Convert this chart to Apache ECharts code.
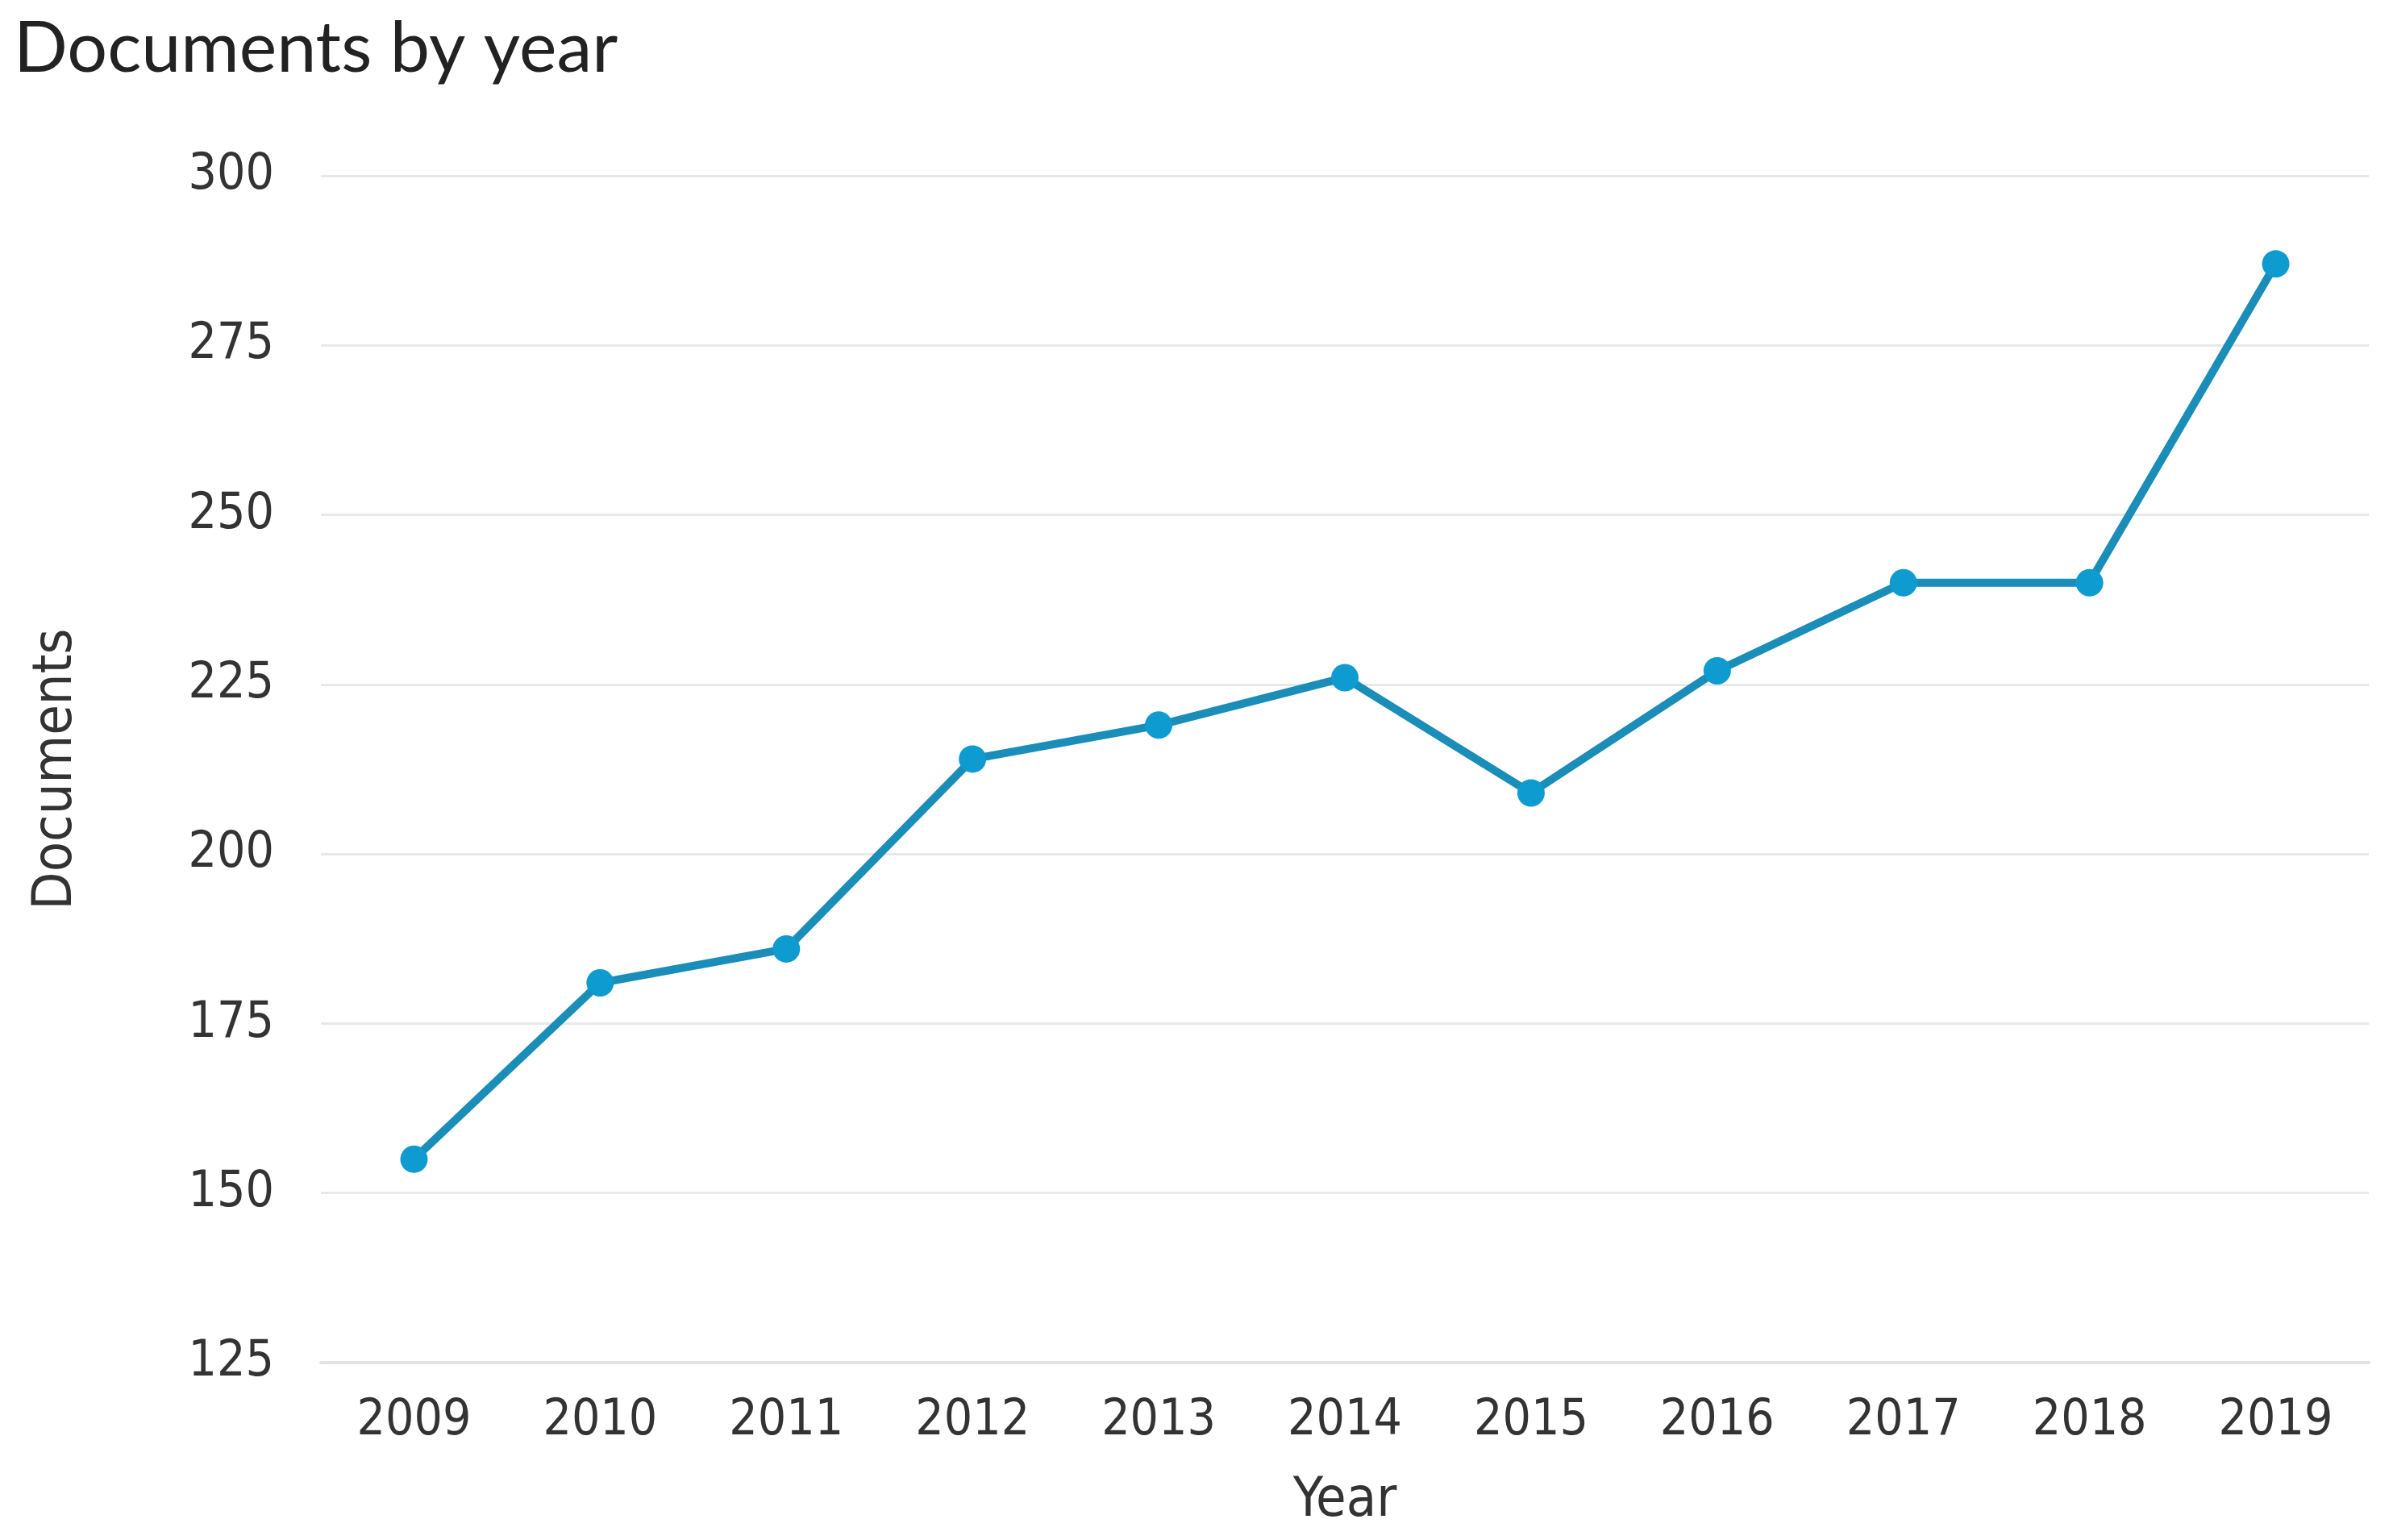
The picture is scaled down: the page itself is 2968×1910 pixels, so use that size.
<!DOCTYPE html>
<html>
<head>
<meta charset="utf-8">
<script src="https://cdn.jsdelivr.net/npm/echarts@6/dist/echarts.min.js"></script>
<style>
  html, body { margin: 0; padding: 0; background: #ffffff; }
  #chart { width: 2968px; height: 1910px; }
</style>
</head>
<body>
<div id="chart"></div>
<script>
const years = ['2009', '2010', '2011', '2012', '2013', '2014', '2015', '2016', '2017', '2018', '2019'];
const documents = [155, 181, 186, 214, 219, 226, 209, 227, 240, 240, 287];
const yMin = 125;
const yMax = 300;
const yStep = 25;

const tickFont = '"Liberation Sans Narrow", "DejaVu Sans Condensed", "Open Sans", sans-serif';

const chart = echarts.init(document.getElementById('chart'), null, { renderer: 'canvas' });
chart.setOption({
  backgroundColor: '#ffffff',
  animation: false,
  title: {
    text: 'Documents by year',
    left: 12,
    top: 12,
    textStyle: {
      fontFamily: 'Lato, "Open Sans", sans-serif',
      fontSize: 88,
      fontWeight: 'normal',
      color: '#222222'
    }
  },
  grid: {
    left: 398,
    right: 30,
    top: 218,
    bottom: 220,
    containLabel: false
  },
  xAxis: {
    type: 'category',
    data: years,
    boundaryGap: true,
    name: 'Year',
    nameLocation: 'middle',
    nameGap: 138,
    nameTextStyle: {
      fontFamily: tickFont,
      fontSize: 68,
      color: '#333333'
    },
    axisLine: { show: true, lineStyle: { color: '#e3e3e3', width: 4 } },
    axisTick: { show: false },
    axisLabel: {
      margin: 42,
      fontFamily: tickFont,
      fontSize: 62,
      color: '#333333'
    },
    splitLine: { show: false }
  },
  yAxis: {
    type: 'value',
    min: yMin,
    max: yMax,
    interval: yStep,
    name: 'Documents',
    nameLocation: 'middle',
    nameGap: 294,
    nameRotate: 90,
    nameTextStyle: {
      fontFamily: tickFont,
      fontSize: 68,
      color: '#333333'
    },
    axisLine: { show: false },
    axisTick: { show: false },
    axisLabel: {
      margin: 58,
      fontFamily: tickFont,
      fontSize: 62,
      color: '#333333',
      padding: [16, 0, 0, 0]
    },
    splitLine: { show: true, lineStyle: { color: '#e8e8e8', width: 3 } }
  },
  series: [{
    type: 'line',
    data: documents,
    symbol: 'circle',
    symbolSize: 34,
    showAllSymbol: true,
    lineStyle: { color: '#1a8db8', width: 10 },
    itemStyle: { color: '#0e9bd0', borderWidth: 0 }
  }]
});
</script>
</body>
</html>
